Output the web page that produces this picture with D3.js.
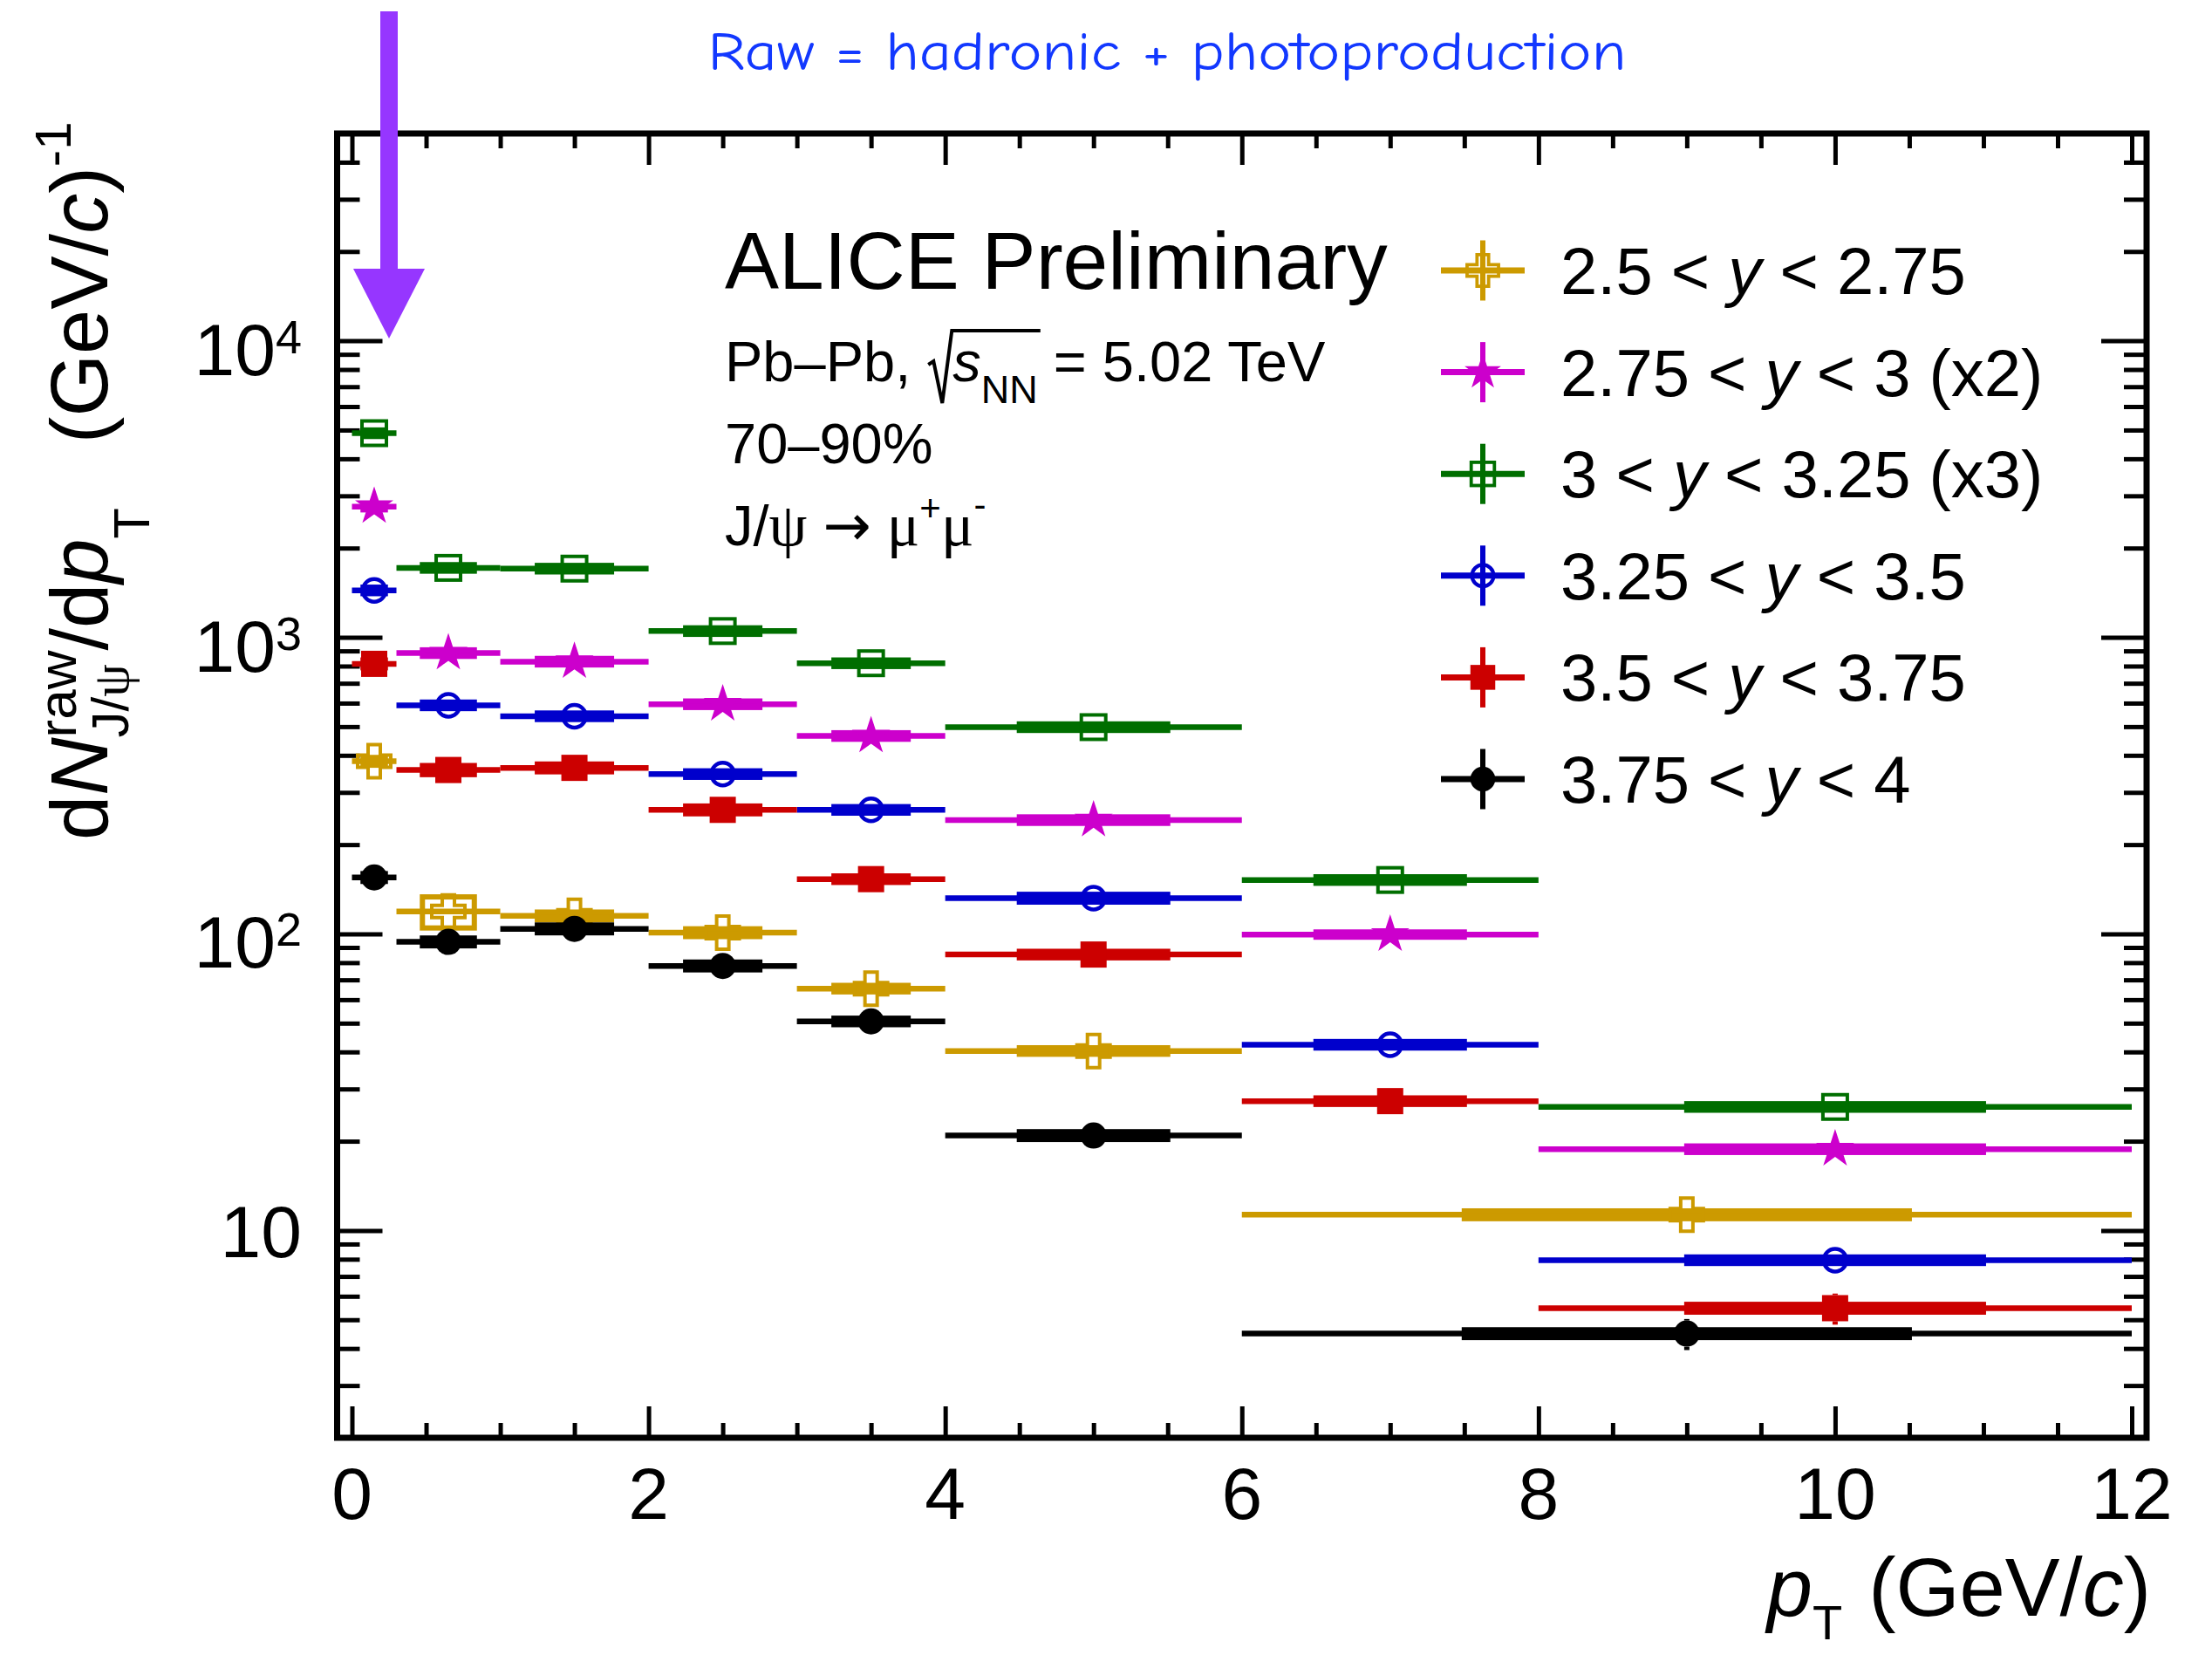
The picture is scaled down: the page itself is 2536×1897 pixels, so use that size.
<!DOCTYPE html>
<html>
<head>
<meta charset="utf-8">
<script src="https://cdn.jsdelivr.net/npm/d3@7"></script>
<style>
  html, body { margin: 0; padding: 0; background: #fff; }
  svg { display: block; }
  text { white-space: pre; }
</style>
</head>
<body>
<svg id="chart" width="2536" height="1897"></svg>
<script>
// ---- pT bin edges (GeV/c) ----
const binLo8 = [0, 0.3, 1, 2, 3, 4, 6, 8];
const binHi8 = [0.3, 1, 2, 3, 4, 6, 8, 12];
const binLo7 = [0, 0.3, 1, 2, 3, 4, 6];
const binHi7 = [0.3, 1, 2, 3, 4, 6, 12];

// ---- raw J/psi yields dN/dpT per rapidity interval ----
const yieldY1 = [382, 119, 115, 101, 65.4, 40.3, 11.3];            // 2.5 < y < 2.75
const yieldY2 = [2760, 885, 828, 595, 465, 242, 99.5, 18.8];        // 2.75 < y < 3 (x2)
const yieldY3 = [4880, 1715, 1705, 1050, 818, 498, 152, 26.1];      // 3 < y < 3.25 (x3)
const yieldY4 = [1440, 590, 542, 346, 262, 132, 42.3, 7.94];        // 3.25 < y < 3.5
const yieldY5 = [814, 357, 363, 262, 153, 85.2, 27.3, 5.47];        // 3.5 < y < 3.75
const yieldY6 = [155, 94, 104, 78, 50.7, 20.9, 4.49];               // 3.75 < y < 4

// ---- relative statistical uncertainties ----
const statY1 = [0.05, 0.06, 0.05, 0.05, 0.07, 0.08, 0.12];
const statY2 = [0.04, 0.04, 0.04, 0.04, 0.05, 0.06, 0.08, 0.10];
const statY3 = [0.03, 0.03, 0.03, 0.04, 0.04, 0.05, 0.07, 0.09];
const statY4 = [0.04, 0.04, 0.04, 0.04, 0.05, 0.06, 0.07, 0.09];
const statY5 = [0.05, 0.05, 0.05, 0.05, 0.06, 0.07, 0.08, 0.12];
const statY6 = [0.07, 0.07, 0.07, 0.07, 0.08, 0.09, 0.12];

// ---- relative systematic uncertainties (boxes) ----
const systY1 = [0.03, 0.12, 0.03, 0.03, 0.025, 0.025, 0.03];
const systY2 = [0.025, 0.025, 0.025, 0.025, 0.025, 0.025, 0.02, 0.025];
const systY3 = [0.025, 0.025, 0.025, 0.025, 0.025, 0.025, 0.025, 0.025];
const systY4 = [0.025, 0.025, 0.025, 0.025, 0.025, 0.03, 0.025, 0.025];
const systY5 = [0.03, 0.035, 0.03, 0.03, 0.025, 0.025, 0.025, 0.03];
const systY6 = [0.03, 0.03, 0.03, 0.03, 0.025, 0.03, 0.03];

// ---- legend texts ----
const rapLo = ["2.5", "2.75", "3", "3.25", "3.5", "3.75"];
const rapHi = ["2.75", "3", "3.25", "3.5", "3.75", "4"];
const rapScale = ["", " (x2)", " (x3)", "", "", ""];

// ---- axis ticks ----
const xMajorTicks = [0, 2, 4, 6, 8, 10, 12];
const xTickLabels = ["0", "2", "4", "6", "8", "10", "12"];
const yMajorTicks = [10, 100, 1000, 10000];
const yTickExp = ["", "2", "3", "4"];

// ---- styles ----
const colors = ["#cc9a00", "#cc00cc", "#006e00", "#0000cc", "#cc0000", "#000000"];
const markers = ["opencross", "star", "opensquare", "opencircle", "square", "circle"];

const SANS = "'Liberation Sans', Arial, Helvetica, sans-serif";
const SERIF = "'Liberation Serif', 'Times New Roman', 'DejaVu Serif', serif";

const series = [
  { lo: binLo7, hi: binHi7, val: yieldY1, stat: statY1, syst: systY1 },
  { lo: binLo8, hi: binHi8, val: yieldY2, stat: statY2, syst: systY2 },
  { lo: binLo8, hi: binHi8, val: yieldY3, stat: statY3, syst: systY3 },
  { lo: binLo8, hi: binHi8, val: yieldY4, stat: statY4, syst: systY4 },
  { lo: binLo8, hi: binHi8, val: yieldY5, stat: statY5, syst: systY5 },
  { lo: binLo7, hi: binHi7, val: yieldY6, stat: statY6, syst: systY6 }
].map((s, i) => Object.assign(s, { color: colors[i], marker: markers[i] }));

const svg = d3.select("#chart");
svg.append("rect").attr("width", 2536).attr("height", 1897).attr("fill", "#fff");

// ---- scales ----
const x = d3.scaleLinear().domain([-0.1, 12.1]).range([386.5, 2461]);
const y = d3.scaleLog().domain([2, 5e4]).range([1648, 153]);
const [X0, X1] = x.range();
const [Y0, Y1] = y.range();

// ---- helper: inline rich text laid out run by run ----
function richText(parent, runs, opt) {
  const g = parent.append("g")
    .attr("transform", `translate(${opt.x},${opt.y})` + (opt.rotate ? ` rotate(${opt.rotate})` : ""));
  const inner = g.append("g");
  let cursor = 0, stackStart = 0, lastEnd = 0;
  const placed = [];
  runs.forEach(r => {
    if (r.gap !== undefined) { cursor += r.gap; lastEnd = cursor; placed.push({ start: cursor - r.gap, end: cursor }); return; }
    const pos = r.pos || "next";
    const start = pos === "stack" ? stackStart : (pos === "cont" ? lastEnd : cursor);
    const t = inner.append("text")
      .attr("x", start).attr("y", -(r.shift || 0))
      .style("font-family", r.family || opt.family || SANS)
      .style("font-size", (r.size || opt.size) + "px")
      .style("font-style", r.italic ? "italic" : "normal")
      .attr("fill", opt.color || "#000")
      .text(r.t);
    const w = t.node().getComputedTextLength();
    lastEnd = start + w;
    if (pos === "next") { stackStart = start; cursor = lastEnd; }
    else cursor = Math.max(cursor, lastEnd);
    placed.push({ start, end: lastEnd });
  });
  let off = 0;
  if (opt.anchor === "end") off = -cursor;
  else if (opt.anchor === "middle") off = -cursor / 2;
  inner.attr("transform", `translate(${off},0)`);
  return { g, width: cursor, placed: placed.map(p => ({ start: p.start + off, end: p.end + off })) };
}

// ---- axes (ticks point inward, on all four sides) ----
const axisG = svg.append("g");
const xMinorTicks = d3.range(0, 12.001, 0.5).filter(v => !xMajorTicks.includes(v));
const yMinorTicks = [];
for (let e = 0; e <= 4; e++) for (let m = 2; m <= 9; m++) {
  const v = m * Math.pow(10, e);
  if (v > 2 && v < 5e4) yMinorTicks.push(v);
}

function styleAxis(sel, tickW) {
  sel.selectAll(".tick line").attr("stroke", "#000").attr("stroke-width", tickW);
  sel.selectAll(".tick text").remove();
  sel.select(".domain").remove();
}
// bottom
axisG.append("g").attr("transform", `translate(0,${Y0})`)
  .call(d3.axisBottom(x).tickValues(xMajorTicks).tickSize(-36).tickSizeOuter(0)).call(styleAxis, 5);
axisG.append("g").attr("transform", `translate(0,${Y0})`)
  .call(d3.axisBottom(x).tickValues(xMinorTicks).tickSize(-17).tickSizeOuter(0)).call(styleAxis, 5);
// top
axisG.append("g").attr("transform", `translate(0,${Y1})`)
  .call(d3.axisTop(x).tickValues(xMajorTicks).tickSize(-36).tickSizeOuter(0)).call(styleAxis, 5);
axisG.append("g").attr("transform", `translate(0,${Y1})`)
  .call(d3.axisTop(x).tickValues(xMinorTicks).tickSize(-17).tickSizeOuter(0)).call(styleAxis, 5);
// left
axisG.append("g").attr("transform", `translate(${X0},0)`)
  .call(d3.axisLeft(y).tickValues(yMajorTicks).tickSize(-52).tickSizeOuter(0)).call(styleAxis, 5);
axisG.append("g").attr("transform", `translate(${X0},0)`)
  .call(d3.axisLeft(y).tickValues(yMinorTicks).tickSize(-26).tickSizeOuter(0)).call(styleAxis, 5);
// right
axisG.append("g").attr("transform", `translate(${X1},0)`)
  .call(d3.axisRight(y).tickValues(yMajorTicks).tickSize(-52).tickSizeOuter(0)).call(styleAxis, 5);
axisG.append("g").attr("transform", `translate(${X1},0)`)
  .call(d3.axisRight(y).tickValues(yMinorTicks).tickSize(-26).tickSizeOuter(0)).call(styleAxis, 5);
// frame
axisG.append("rect").attr("x", X0).attr("y", Y1).attr("width", X1 - X0).attr("height", Y0 - Y1)
  .attr("fill", "none").attr("stroke", "#000").attr("stroke-width", 7);

// tick labels
const labG = svg.append("g").style("font-family", SANS).attr("fill", "#000");
xMajorTicks.forEach((v, i) => {
  labG.append("text").attr("x", x(v)).attr("y", 1741).attr("text-anchor", "middle")
    .style("font-size", "84px").text(xTickLabels[i]);
});
yMajorTicks.forEach((v, i) => {
  const t = labG.append("text").attr("text-anchor", "end").attr("x", 346).style("font-size", "84px");
  if (yTickExp[i] === "") {
    t.attr("y", y(v) + 31).text("10");
  } else {
    t.attr("y", y(v) + 39);
    t.append("tspan").text("10");
    t.append("tspan").attr("dy", -25).style("font-size", "54px").text(yTickExp[i]);
  }
});

// axis titles
richText(svg, [
  { t: "p", italic: true },
  { t: "T", size: 56, shift: -27 },
  { gap: 30 },
  { t: "(GeV/" },
  { t: "c", italic: true },
  { t: ")" }
], { x: 2466, y: 1852, size: 94, anchor: "end" });

richText(svg, [
  { t: "d" },
  { t: "N", italic: true },
  { t: "raw", size: 62, shift: 36 },
  { t: "J/", size: 60, shift: -24, pos: "stack" },
  { t: "ψ", size: 60, shift: -24, pos: "cont", family: SERIF },
  { t: "/d" },
  { t: "p", italic: true },
  { t: "T", size: 58, shift: -48 },
  { gap: 74 },
  { t: "(GeV/" },
  { t: "c", italic: true },
  { t: ")" },
  { t: "-1", size: 58, shift: 42 }
], { x: 123, y: 963, size: 92, rotate: -90, anchor: "start" });

// ---- data ----
const dataG = svg.append("g");
const crossPath = (a, w) => `M${-w},${-a}L${w},${-a}L${w},${-w}L${a},${-w}L${a},${w}L${w},${w}L${w},${a}L${-w},${a}L${-w},${w}L${-a},${w}L${-a},${-w}L${-w},${-w}Z`;
const markerHalf = { opencross: 19, star: 21, opensquare: 16, opencircle: 15, square: 15, circle: 15 };

function drawMarker(g, type, cx, cy, color, scale = 1) {
  const tr = `translate(${cx},${cy}) scale(${scale})`;
  switch (type) {
    case "opencross":
      g.append("path").attr("d", crossPath(19, 7)).attr("transform", tr)
        .attr("fill", "none").attr("stroke", color).attr("stroke-width", 4);
      break;
    case "star":
      g.append("path").attr("d", d3.symbol(d3.symbolStar, 600)()).attr("transform", tr).attr("fill", color);
      break;
    case "opensquare":
      g.append("rect").attr("x", -14).attr("y", -14).attr("width", 28).attr("height", 28)
        .attr("transform", tr).attr("fill", "none").attr("stroke", color).attr("stroke-width", 4);
      break;
    case "opencircle":
      g.append("circle").attr("r", 13).attr("transform", tr)
        .attr("fill", "none").attr("stroke", color).attr("stroke-width", 4.5);
      break;
    case "square":
      g.append("rect").attr("x", -15).attr("y", -15).attr("width", 30).attr("height", 30)
        .attr("transform", tr).attr("fill", color);
      break;
    case "circle":
      g.append("circle").attr("r", 15).attr("transform", tr).attr("fill", color);
      break;
  }
}

series.forEach(s => {
  const g = dataG.append("g");
  s.val.forEach((v, i) => {
    const lo = s.lo[i], hi = s.hi[i];
    const xc = (lo + hi) / 2;
    const px = x(xc), py = y(v);
    const half = markerHalf[s.marker];
    // bin-width line
    g.append("line").attr("x1", x(lo)).attr("x2", x(hi)).attr("y1", py).attr("y2", py)
      .attr("stroke", s.color).attr("stroke-width", 6.5);
    // statistical error, drawn outside the marker
    const yTop = y(v * (1 + s.stat[i])), yBot = y(v * (1 - s.stat[i]));
    if (py - yTop > half) g.append("line").attr("x1", px).attr("x2", px).attr("y1", yTop).attr("y2", py - half)
      .attr("stroke", s.color).attr("stroke-width", 6);
    if (yBot - py > half) g.append("line").attr("x1", px).attr("x2", px).attr("y1", py + half).attr("y2", yBot)
      .attr("stroke", s.color).attr("stroke-width", 6);
    // systematic box, half the bin width
    const bw = (hi - lo) / 4;
    g.append("rect").attr("x", x(xc - bw)).attr("width", x(xc + bw) - x(xc - bw))
      .attr("y", y(v * (1 + s.syst[i]))).attr("height", y(v * (1 - s.syst[i])) - y(v * (1 + s.syst[i])))
      .attr("fill", "none").attr("stroke", s.color).attr("stroke-width", 6);
    drawMarker(g, s.marker, px, py, s.color);
  });
});

// ---- legend ----
const legG = svg.append("g");
series.forEach((s, i) => {
  const cy = 310 + i * 116.6;
  legG.append("line").attr("x1", 1652).attr("x2", 1748).attr("y1", cy).attr("y2", cy)
    .attr("stroke", s.color).attr("stroke-width", 7);
  legG.append("line").attr("x1", 1700).attr("x2", 1700).attr("y1", cy - 34.5).attr("y2", cy + 34.5)
    .attr("stroke", s.color).attr("stroke-width", 6);
  drawMarker(legG, s.marker, 1700, cy, s.color, 0.95);
  const t = legG.append("text").attr("x", 1789).attr("y", cy + 27)
    .style("font-family", SANS).style("font-size", "76px").attr("fill", "#000");
  t.append("tspan").text(rapLo[i] + " < ");
  t.append("tspan").style("font-style", "italic").text("y");
  t.append("tspan").text(" < " + rapHi[i] + rapScale[i]);
});

// ---- header texts ----
svg.append("text").attr("x", 831).attr("y", 331)
  .style("font-family", SANS).style("font-size", "93px").attr("fill", "#000")
  .text("ALICE Preliminary");

const sys = richText(svg, [
  { t: "Pb–Pb, " },
  { gap: 30 },
  { t: "s", italic: true },
  { t: "NN", size: 45, shift: -25 },
  { t: " = 5.02 TeV" }
], { x: 831, y: 437, size: 65 });
{
  const sx = 831 + sys.placed[1].start + 2, ex = 831 + sys.placed[3].end + 3, b = 437;
  svg.append("path")
    .attr("d", `M${sx},${b - 19}L${sx + 6},${b - 23}L${sx + 16},${b + 25}L${sx + 27},${b - 58}L${ex},${b - 58}`)
    .attr("fill", "none").attr("stroke", "#000").attr("stroke-width", 4).attr("stroke-linejoin", "miter");
}

svg.append("text").attr("x", 831).attr("y", 531)
  .style("font-family", SANS).style("font-size", "65px").attr("fill", "#000").text("70–90%");

richText(svg, [
  { t: "J/" },
  { t: "ψ", family: SERIF, size: 70 },
  { t: " " },
  { t: "→", family: "'DejaVu Sans', sans-serif", size: 66 },
  { t: " " },
  { t: "μ", family: SERIF, size: 70 },
  { t: "+", size: 42, shift: 28 },
  { t: "μ", family: SERIF, size: 70 },
  { t: "-", size: 42, shift: 32 }
], { x: 831, y: 625, size: 65 });

// ---- annotation ----
svg.append("text").attr("x", 1338).attr("y", 80).attr("text-anchor", "middle")
  .attr("textLength", 1053).attr("lengthAdjust", "spacingAndGlyphs")
  .style("font-family", "'Comic Sans MS', 'Comic Neue', 'DejaVu Sans', sans-serif")
  .style("font-size", "62px").attr("fill", "#1238ff")
  .text("Raw = hadronic + photoproduction");

const arrowG = svg.append("g").attr("fill", "#9636ff");
arrowG.append("rect").attr("x", 436).attr("y", 13).attr("width", 20).attr("height", 300);
arrowG.append("path").attr("d", "M405,308L487,308L446,388Z");
</script>
</body>
</html>
